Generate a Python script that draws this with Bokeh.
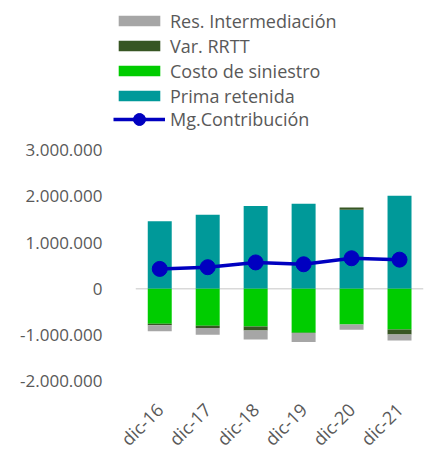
import numpy as np
from bokeh.plotting import figure
from bokeh.models import ColumnDataSource, Range1d, FixedTicker, Legend, LegendItem
from bokeh.embed import file_html
from bokeh.resources import INLINE
from math import pi

categories = ["dic-16", "dic-17", "dic-18", "dic-19", "dic-20", "dic-21"]
prima_retenida = [1460000, 1600000, 1790000, 1840000, 1710000, 2010000]
costo_siniestro = [-756000, -800000, -815000, -950000, -770000, -880000]
var_rrtt = [-30000, -50000, -85000, -5000, 50000, -110000]
res_intermediacion = [-130000, -145000, -195000, -195000, -115000, -125000]
mg_contribucion = [430000, 467000, 570000, 530000, 660000, 630000]
y_ticks = [-2000000, -1000000, 0, 1000000, 2000000, 3000000]
y_tick_labels = ["-2.000.000", "-1.000.000", "0", "1.000.000", "2.000.000", "3.000.000"]

FONT = "Open Sans"
TXT = "#595959"
FS = "18px"
FS_Y = "17px"

n = len(categories)
xpos = np.arange(n, dtype=float)
prima = np.array(prima_retenida, dtype=float)
costo = np.array(costo_siniestro, dtype=float)
var = np.array(var_rrtt, dtype=float)
res = np.array(res_intermediacion, dtype=float)
var_bottom = np.where(var >= 0, prima, costo)
var_top = var_bottom + var
res_bottom = costo + np.minimum(var, 0)
res_top = res_bottom + res

src = ColumnDataSource(dict(
    x=xpos, prima=prima, costo=costo, var_b=var_bottom, var_t=var_top,
    res_b=res_bottom, res_t=res_top, mg=mg_contribucion, zero=np.zeros(n)))

p = figure(width=424, height=450, x_range=Range1d(-1.027, n - 0.5),
           y_range=Range1d(-3495500, 6232000), output_backend="svg", toolbar_location=None,
           min_border_left=110, min_border_right=1, min_border_top=0, min_border_bottom=0)
p.outline_line_color = None
p.xgrid.visible = False
p.ygrid.visible = False
p.background_fill_color = "white"

# category axis line at zero, spanning the category band
p.segment(x0=[-0.5], y0=[0], x1=[n - 0.5], y1=[0], line_color="#d9d9d9", line_width=1.5)

W = 0.5
r_prima = p.vbar(x="x", bottom="zero", top="prima", width=W, source=src, fill_color="#009999", line_color=None)
r_costo = p.vbar(x="x", bottom="zero", top="costo", width=W, source=src, fill_color="#00CC00", line_color=None)
r_var = p.vbar(x="x", bottom="var_b", top="var_t", width=W, source=src, fill_color="#375623", line_color=None)
r_res = p.vbar(x="x", bottom="res_b", top="res_t", width=W, source=src, fill_color="#A6A6A6", line_color=None)
r_line = p.line(x="x", y="mg", source=src, line_color="#0000C0", line_width=3.5)
r_pts = p.scatter(x="x", y="mg", source=src, size=15, fill_color="#0000C0", line_color="#0000C0")

yax = p.yaxis[0]
yax.ticker = FixedTicker(ticks=y_ticks)
yax.major_label_overrides = {t: s for t, s in zip(y_ticks, y_tick_labels)}
yax.axis_line_color = None
yax.major_tick_line_color = None
yax.minor_tick_line_color = None
yax.major_label_standoff = 2
yax.major_label_text_font = FONT
yax.major_label_text_font_size = FS_Y
yax.major_label_text_color = TXT

xax = p.xaxis[0]
xax.fixed_location = y_ticks[0]
xax.ticker = FixedTicker(ticks=list(xpos))
xax.major_label_overrides = {float(i): c for i, c in zip(xpos, categories)}
xax.axis_line_color = None
xax.major_tick_line_color = None
xax.minor_tick_line_color = None
xax.major_label_orientation = pi / 4
xax.major_label_standoff = 19
xax.major_label_text_font = FONT
xax.major_label_text_font_size = FS
xax.major_label_text_color = TXT

def style(lg):
    lg.padding = 0
    lg.margin = 0
    lg.border_line_color = None
    lg.background_fill_alpha = 0
    lg.label_text_font = FONT
    lg.label_text_font_size = FS
    lg.label_text_color = TXT
    lg.glyph_width = 52
    lg.label_standoff = 5
    lg.spacing = 0

leg1 = Legend(items=[
    LegendItem(label="Res. Intermediación", renderers=[r_res]),
    LegendItem(label="Var. RRTT", renderers=[r_var]),
    LegendItem(label="Costo de siniestro", renderers=[r_costo]),
    LegendItem(label="Prima retenida", renderers=[r_prima]),
], location=(3, 342))
style(leg1)
leg1.glyph_height = 13
leg1.label_height = 25

leg2 = Legend(items=[LegendItem(label="Mg.Contribución", renderers=[r_line, r_pts])], location=(3, 316))
style(leg2)
leg2.glyph_height = 30
leg2.label_height = 30

p.add_layout(leg1)
p.add_layout(leg2)

open("out.html", "w").write(file_html(p, INLINE))
